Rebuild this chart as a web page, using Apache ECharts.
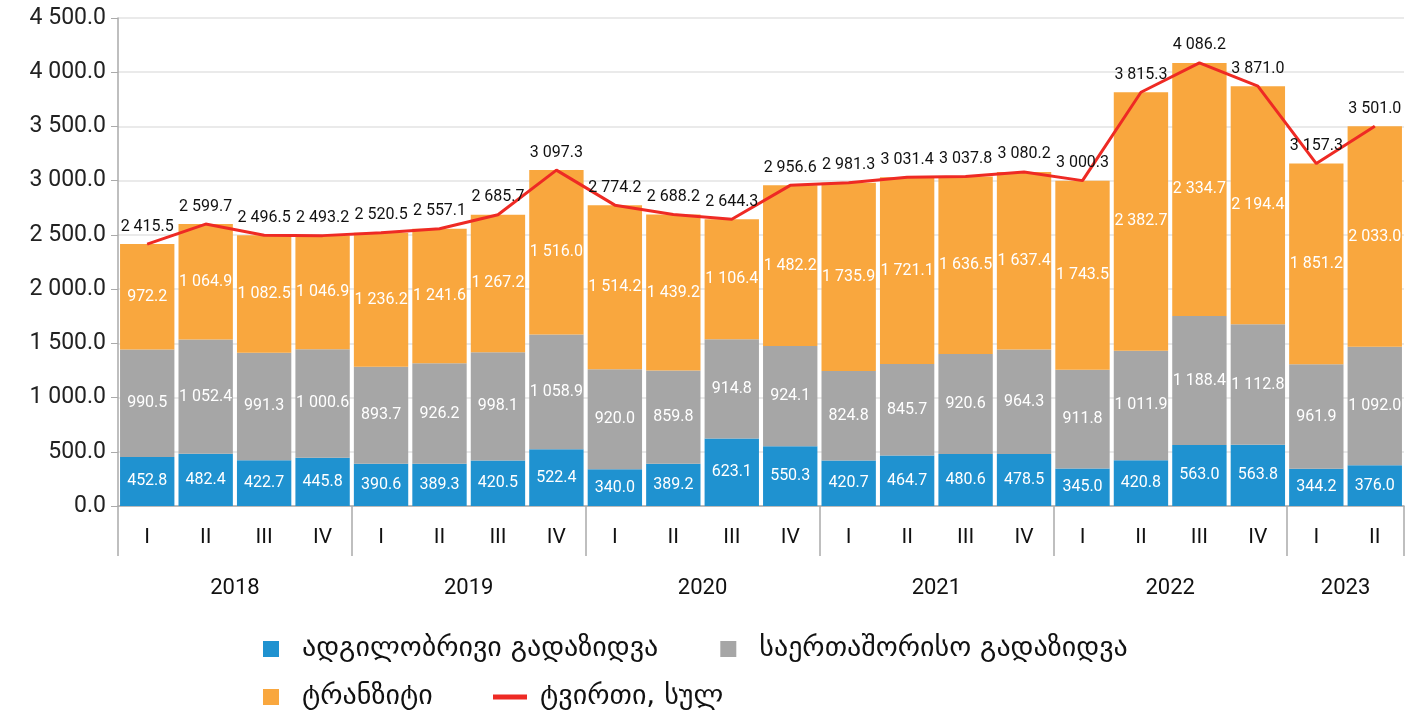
<!DOCTYPE html>
<html>
<head>
<meta charset="utf-8">
<script src="https://cdn.jsdelivr.net/npm/echarts@6/dist/echarts.min.js"></script>
<style>
  html, body { margin: 0; padding: 0; background: #fff; }
  #chart { width: 1416px; height: 713px; }
</style>
</head>
<body>
<div id="chart"></div>
<script>
// quarters and years
const quarters = ['I', 'II', 'III', 'IV', 'I', 'II', 'III', 'IV', 'I', 'II', 'III', 'IV',
  'I', 'II', 'III', 'IV', 'I', 'II', 'III', 'IV', 'I', 'II'];
const years = ['2018', '2019', '2020', '2021', '2022', '2023'];
const yearStarts = [0, 4, 8, 12, 16, 20, 22];
const yearCenters = [2, 6, 10, 14, 18, 21];

// ტვირთის მოცულობა
const localData = [452.8, 482.4, 422.7, 445.8, 390.6, 389.3, 420.5, 522.4, 340.0, 389.2, 623.1,
  550.3, 420.7, 464.7, 480.6, 478.5, 345.0, 420.8, 563.0, 563.8, 344.2, 376.0];
const intlData = [990.5, 1052.4, 991.3, 1000.6, 893.7, 926.2, 998.1, 1058.9, 920.0, 859.8, 914.8,
  924.1, 824.8, 845.7, 920.6, 964.3, 911.8, 1011.9, 1188.4, 1112.8, 961.9, 1092.0];
const transitData = [972.2, 1064.9, 1082.5, 1046.9, 1236.2, 1241.6, 1267.2, 1516.0, 1514.2, 1439.2, 1106.4,
  1482.2, 1735.9, 1721.1, 1636.5, 1637.4, 1743.5, 2382.7, 2334.7, 2194.4, 1851.2, 2033.0];
const totalData = [2415.5, 2599.7, 2496.5, 2493.2, 2520.5, 2557.1, 2685.7, 3097.3, 2774.2, 2688.2, 2644.3,
  2956.6, 2981.3, 3031.4, 3037.8, 3080.2, 3000.3, 3815.3, 4086.2, 3871.0, 3157.3, 3501.0];

const names = ['ადგილობრივი გადაზიდვა', 'საერთაშორისო გადაზიდვა', 'ტრანზიტი', 'ტვირთი, სულ'];

function fmt (v) {
  return Number(v).toFixed(1).replace(/\B(?=(\d{3})+(?!\d))/g, ' ');
}

const font = 'Roboto, "Noto Sans", sans-serif';
const legendText = { fontSize: 28, color: '#111', fontFamily: 'DejaVu Sans', padding: [0, 0, 0, 18] };

let chart = echarts.init(document.getElementById('chart'));
chart.setOption({
  animation: false,
  textStyle: { fontFamily: font },
  grid: { left: 118, right: 12, top: 18, bottom: 207 },
  legend: [
    {
      left: 258,
      top: 630,
      icon: 'rect',
      itemWidth: 16,
      itemHeight: 16,
      itemGap: 62,
      textStyle: legendText,
      data: [names[0], names[1]]
    },
    {
      left: 258,
      top: 678,
      icon: 'rect',
      itemWidth: 16,
      itemHeight: 16,
      textStyle: legendText,
      data: [names[2]]
    },
    {
      left: 488,
      top: 678,
      icon: 'rect',
      itemWidth: 34,
      itemHeight: 5,
      textStyle: Object.assign({}, legendText, { padding: [0, 0, 0, 8] }),
      data: [{ name: names[3], itemStyle: { color: '#ee2a24' } }]
    }
  ],
  xAxis: [
    {
      type: 'category',
      data: quarters,
      axisLine: { lineStyle: { color: '#aaa', width: 1.5 } },
      axisTick: { show: false },
      axisLabel: { fontSize: 21, color: '#111', margin: 21, interval: 0 }
    },
    {
      type: 'value',
      position: 'bottom',
      min: 0,
      max: 22,
      splitLine: { show: false },
      axisLine: { show: false },
      axisTick: { show: true, customValues: yearStarts, length: 50, lineStyle: { color: '#aaa', width: 1.5 } },
      axisLabel: {
        customValues: yearCenters,
        fontSize: 22,
        color: '#111',
        margin: 71,
        formatter: v => years[yearCenters.indexOf(v)]
      }
    }
  ],
  yAxis: {
    type: 'value',
    min: 0,
    max: 4500,
    interval: 500,
    axisLine: { show: true, lineStyle: { color: '#aaa', width: 1.5 } },
    axisTick: { show: true, length: 7, lineStyle: { color: '#aaa' } },
    splitLine: { lineStyle: { color: '#e3e3e3', width: 1.5 } },
    axisLabel: { fontSize: 23, color: '#222', margin: 12, formatter: fmt }
  },
  series: [
    {
      name: names[0],
      type: 'bar',
      stack: 'total',
      barCategoryGap: '7%',
      data: localData,
      itemStyle: { color: '#1f92d0' },
      label: { show: true, position: 'inside', color: '#fff', fontSize: 16, formatter: p => fmt(p.value) }
    },
    {
      name: names[1],
      type: 'bar',
      stack: 'total',
      data: intlData,
      itemStyle: { color: '#a6a6a6' },
      label: { show: true, position: 'inside', color: '#fff', fontSize: 16, formatter: p => fmt(p.value) }
    },
    {
      name: names[2],
      type: 'bar',
      stack: 'total',
      data: transitData,
      itemStyle: { color: '#f9a73e' },
      label: { show: true, position: 'inside', color: '#fff', fontSize: 16, formatter: p => fmt(p.value) }
    },
    {
      name: names[3],
      type: 'line',
      data: totalData,
      symbol: 'circle',
      symbolSize: 1,
      showSymbol: true,
      lineStyle: { color: '#ee2a24', width: 3 },
      itemStyle: { color: '#ee2a24' },
      label: { show: true, position: 'top', distance: 9, color: '#111', fontSize: 16, formatter: p => fmt(p.value) }
    }
  ]
});
</script>
</body>
</html>
